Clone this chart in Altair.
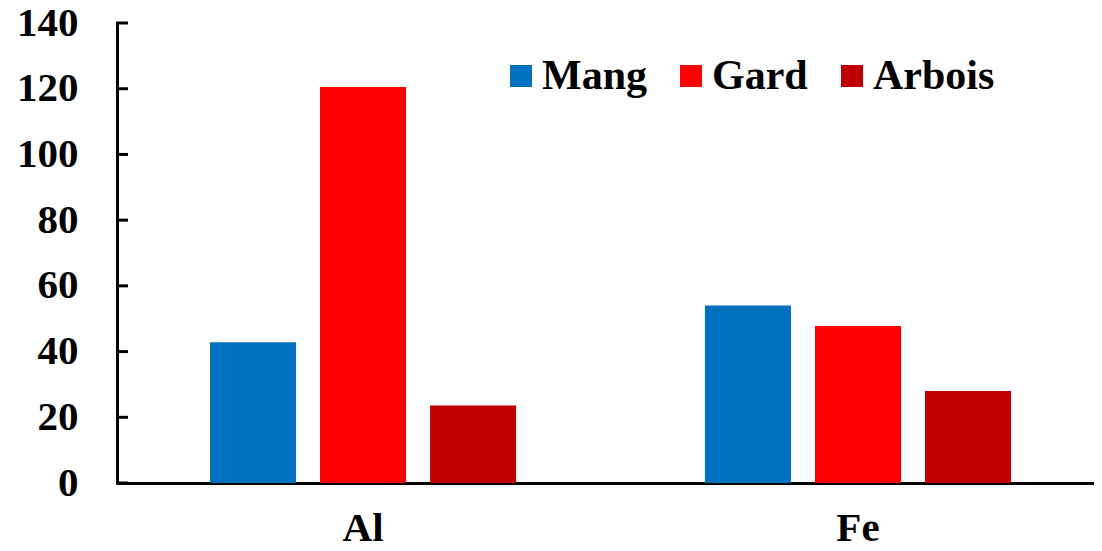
import altair as alt
import pandas as pd

elements = ["Al", "Fe"]
series = ["Mang", "Gard", "Arbois"]
values_al = [42.8, 120.5, 23.6]
values_fe = [54.0, 47.8, 28.0]
colors = ["#0070C0", "#FF0000", "#C00000"]
tick_values = [0, 20, 40, 60, 80, 100, 120, 140]

rows = []
for el, vals in zip(elements, [values_al, values_fe]):
    for s, v in zip(series, vals):
        rows.append({"element": el, "series": s, "value": v})
df = pd.DataFrame(rows)
ticks_df = pd.DataFrame({"tick": tick_values})

FONT = "Liberation Serif"
FS = 41

bars = alt.Chart(df).mark_bar().encode(
    x=alt.X("element:N", sort=elements,
            scale=alt.Scale(paddingInner=0.333, paddingOuter=0.1535, align=0.533),
            axis=alt.Axis(title=None, labelAngle=0, ticks=False, domainWidth=3,
                          domainColor="black", labelFont=FONT, labelFontSize=FS,
                          labelFontWeight="bold", labelColor="black", labelPadding=25)),
    xOffset=alt.XOffset("series:N", sort=series,
                        scale=alt.Scale(paddingInner=0.218, paddingOuter=0.109)),
    y=alt.Y("value:Q", scale=alt.Scale(domain=[0, 140], nice=False),
            axis=alt.Axis(title=None, values=tick_values, ticks=False, grid=False,
                          domainWidth=3, domainColor="black", labelFont=FONT,
                          labelFontSize=FS, labelFontWeight="bold", labelColor="black",
                          labelPadding=39)),
    color=alt.Color("series:N", sort=series,
                    scale=alt.Scale(domain=series, range=colors),
                    legend=alt.Legend(title=None, orient="none", legendX=383, legendY=32,
                                      direction="horizontal", symbolType="square",
                                      symbolSize=484, symbolStrokeWidth=0,
                                      labelFont=FONT, labelFontSize=42,
                                      labelFontWeight="bold", labelColor="black",
                                      labelOffset=0, columnPadding=23, padding=0)),
)

tick_marks = alt.Chart(ticks_df).mark_rule(color="black", strokeWidth=3).encode(
    y=alt.Y("tick:Q"),
    x=alt.value(-1),
    x2=alt.value(11),
)

chart = alt.layer(bars, tick_marks).properties(
    width=977,
    height=460,
    autosize=alt.AutoSizeParams(type="none"),
    padding={"left": 109, "top": 15, "right": 0, "bottom": 60},
).configure_view(stroke=None)

chart.save("out.html", embed_options={"renderer": "svg", "actions": False})
